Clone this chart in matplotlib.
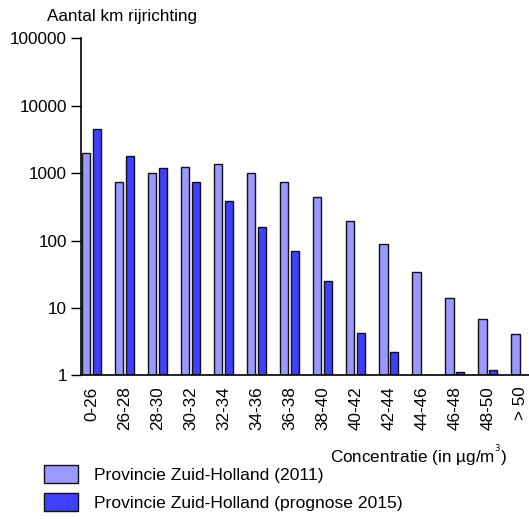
import numpy as np
import matplotlib
matplotlib.use("Agg")
import matplotlib.pyplot as plt
from matplotlib.ticker import FixedLocator, NullLocator

plt.rcParams['font.family'] = ['Liberation Sans', 'DejaVu Sans']

# Categorieën en waarden
klassen = ['0-26', '26-28', '28-30', '30-32', '32-34', '34-36', '36-38',
           '38-40', '40-42', '42-44', '44-46', '46-48', '48-50', '> 50']
km_2011 = [2000, 740, 1000, 1230, 1380, 1010, 740, 445, 195, 88, 34, 14, 6.8, 4.05]
km_2015 = [4500, 1800, 1180, 740, 390, 160, 71, 25, 4.3, 2.2, 1.0, 1.12, 1.21, 1.0]

yticks = [1, 10, 100, 1000, 10000, 100000]

kleur_2011 = '#9999ff'
kleur_2015 = '#4040ff'
fs = 12.3

fig = plt.figure(figsize=(5.29, 5.19), dpi=100)
ax = fig.add_axes([0.153, 0.277, 0.847, 0.649])

x = np.arange(len(klassen))
w = 0.25
ax.bar(x - 0.16, km_2011, width=w, color=kleur_2011, edgecolor='#111111',
       linewidth=1.0, label='Provincie Zuid-Holland (2011)')
ax.bar(x + 0.16, km_2015, width=w, color=kleur_2015, edgecolor='#111111',
       linewidth=1.0, label='Provincie Zuid-Holland (prognose 2015)')

ax.set_yscale('log')
ax.set_ylim(1, 100000)
ax.set_xlim(-0.32, 13.25)

ax.yaxis.set_major_locator(FixedLocator(yticks))
ax.yaxis.set_minor_locator(NullLocator())
ax.set_yticklabels([str(v) for v in yticks])

ax.set_xticks(x)
ax.set_xticklabels(klassen, rotation=90, va='top', ha='center')

ax.tick_params(axis='y', length=7, width=1, direction='out', labelsize=fs, pad=3)
ax.tick_params(axis='x', length=0, labelsize=fs, pad=8)

for s in ['top', 'right']:
    ax.spines[s].set_visible(False)
for s in ['left', 'bottom']:
    ax.spines[s].set_linewidth(1.2)

fig.text(47 / 529, 1 - 16 / 519, 'Aantal km rijrichting', fontsize=fs,
         ha='left', va='center')
fig.text(507 / 529, 1 - 456 / 519, 'Concentratie (in µg/m$^{^3}$)', fontsize=fs,
         ha='right', va='center')

fig.legend(loc='upper left', bbox_to_anchor=(44 / 529, 1 - 465 / 519),
           frameon=False, fontsize=12.6, handlelength=1.95, handleheight=1.2,
           labelspacing=0.6, handletextpad=0.9, borderaxespad=0, borderpad=0)

fig.savefig('out.png', dpi=100)
